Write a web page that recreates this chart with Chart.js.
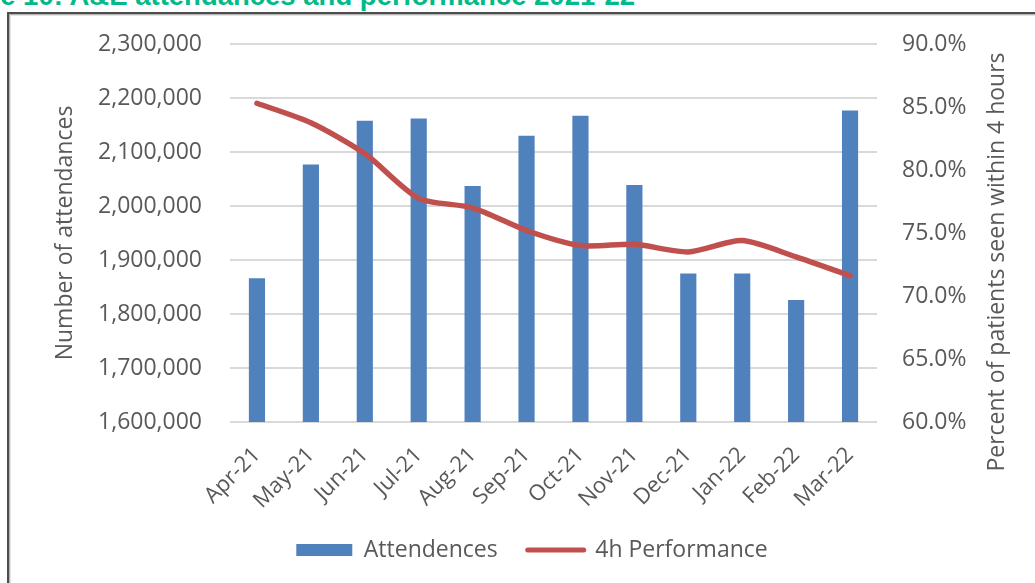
<!DOCTYPE html>
<html>
<head>
<meta charset="utf-8">
<script src="https://cdn.jsdelivr.net/npm/chart.js@4/dist/chart.umd.min.js"></script>
<style>
  html, body { margin: 0; padding: 0; background: #ffffff; width: 1035px; height: 583px; overflow: hidden; }
  #title { position: absolute; right: 400px; top: -18.5px; white-space: nowrap; text-align: right;
           font-family: "Liberation Sans", Arial, sans-serif; font-weight: bold; font-size: 27.5px; line-height: 27.5px; color: #00BA8A; }
  #frame { position: absolute; left: 7px; top: 12px; width: 1200px; height: 800px;
           border-left: 2px solid #4d4d4d; border-top: 2px solid #4d4d4d;
           box-shadow: inset 1px 1px 0 #b5b5b5, inset 2px 2px 0 #e4e4e4; }
  #c { position: absolute; left: 0; top: 0; }
</style>
</head>
<body>
<div id="title">Figure 10: A&amp;E attendances and performance 2021-22</div>
<div id="frame"></div>
<canvas id="c" width="1035" height="583"></canvas>
<script>
// ---- data ----
const categories = ['Apr-21','May-21','Jun-21','Jul-21','Aug-21','Sep-21','Oct-21','Nov-21','Dec-21','Jan-22','Feb-22','Mar-22'];
const attendances = [1866000, 2077000, 2158000, 2162000, 2037000, 2130000, 2167000, 2039000, 1875000, 1875000, 1826000, 2177000];
const performance = [85.3, 83.75, 81.3, 77.75, 77.0, 75.2, 74.0, 74.1, 73.5, 74.4, 73.1, 71.6];
const leftAxisTicks = [1600000, 1700000, 1800000, 1900000, 2000000, 2100000, 2200000, 2300000];
const rightAxisTicks = [60, 65, 70, 75, 80, 85, 90];
const seriesNames = ['Attendences', '4h Performance'];
const axisTitles = ['Number of attendances', 'Percent of patients seen within 4 hours'];

const FONT = '"Open Sans", "Noto Sans", sans-serif';
const TXT = '#595959';
const BLUE = '#4F81BD';
const RED = '#C0504D';
const LEGEND_PAD = 30;

const rightTitlePlugin = {
  id: 'rightTitle',
  afterDraw(chart) {
    const ctx = chart.ctx;
    ctx.save();
    ctx.translate(1004, 262);
    ctx.rotate(-Math.PI / 2);
    ctx.font = '23px ' + FONT;
    ctx.fillStyle = TXT;
    ctx.textAlign = 'center';
    ctx.textBaseline = 'alphabetic';
    ctx.fillText(axisTitles[1], 0, 0);
    ctx.restore();
  }
};

new Chart(document.getElementById('c'), {
  data: {
    labels: categories,
    datasets: [
      {
        type: 'bar', label: seriesNames[0], data: attendances, yAxisID: 'y',
        backgroundColor: BLUE, borderWidth: 0, barPercentage: 0.3, categoryPercentage: 1.0, order: 1
      },
      {
        type: 'line', label: seriesNames[1], data: performance, yAxisID: 'y1',
        borderColor: RED, backgroundColor: RED, borderWidth: 5.5, pointRadius: 0, tension: 0.25,
        borderCapStyle: 'round', borderJoinStyle: 'round', order: 0
      }
    ]
  },
  options: {
    responsive: false,
    animation: false,
    events: [],
    layout: { padding: { top: 44, bottom: 11.5, left: 29, right: 0 } },
    plugins: {
      tooltip: { enabled: false },
      legend: {
        position: 'bottom',
        labels: {
          usePointStyle: true,
          pointStyleWidth: 56,
          boxHeight: 12,
          padding: LEGEND_PAD,
          color: TXT,
          font: { family: FONT, size: 23 },
          generateLabels() {
            return [
              { text: seriesNames[0], fillStyle: BLUE, strokeStyle: BLUE, lineWidth: 0, pointStyle: 'rect', hidden: false, datasetIndex: 0, fontColor: TXT },
              { text: seriesNames[1], fillStyle: RED, strokeStyle: RED, lineWidth: 5, lineCap: 'round', pointStyle: 'line', hidden: false, datasetIndex: 1, fontColor: TXT }
            ];
          }
        }
      }
    },
    scales: {
      x: {
        type: 'category',
        grid: { display: false },
        border: { display: false },
        ticks: { color: TXT, font: { family: FONT, size: 22 }, minRotation: 45, maxRotation: 45, autoSkip: false, padding: 12 },
        afterFit(scale) { scale.height = 116.5 - LEGEND_PAD; }
      },
      y: {
        position: 'left',
        min: leftAxisTicks[0], max: leftAxisTicks[leftAxisTicks.length - 1],
        afterBuildTicks(scale) { scale.ticks = leftAxisTicks.map(v => ({ value: v })); },
        grid: { color: '#D9D9D9', lineWidth: 2, drawTicks: false },
        border: { display: false },
        ticks: {
          color: TXT, font: { family: FONT, size: 23 }, padding: 28,
          callback: v => Number(v).toLocaleString('en-US')
        },
        title: { display: true, text: axisTitles[0], color: TXT, font: { family: FONT, size: 23 }, padding: { top: 23, bottom: 0 } },
        afterFit(scale) { scale.width = 201; }
      },
      y1: {
        position: 'right',
        min: rightAxisTicks[0], max: rightAxisTicks[rightAxisTicks.length - 1],
        afterBuildTicks(scale) { scale.ticks = rightAxisTicks.map(v => ({ value: v })); },
        grid: { display: false, drawTicks: false },
        border: { display: false },
        ticks: {
          color: TXT, font: { family: FONT, size: 23 }, padding: 25,
          callback: v => Number(v).toFixed(1) + '%'
        },
        afterFit(scale) { scale.width = 158; }
      }
    }
  },
  plugins: [rightTitlePlugin]
});
</script>
</body>
</html>
